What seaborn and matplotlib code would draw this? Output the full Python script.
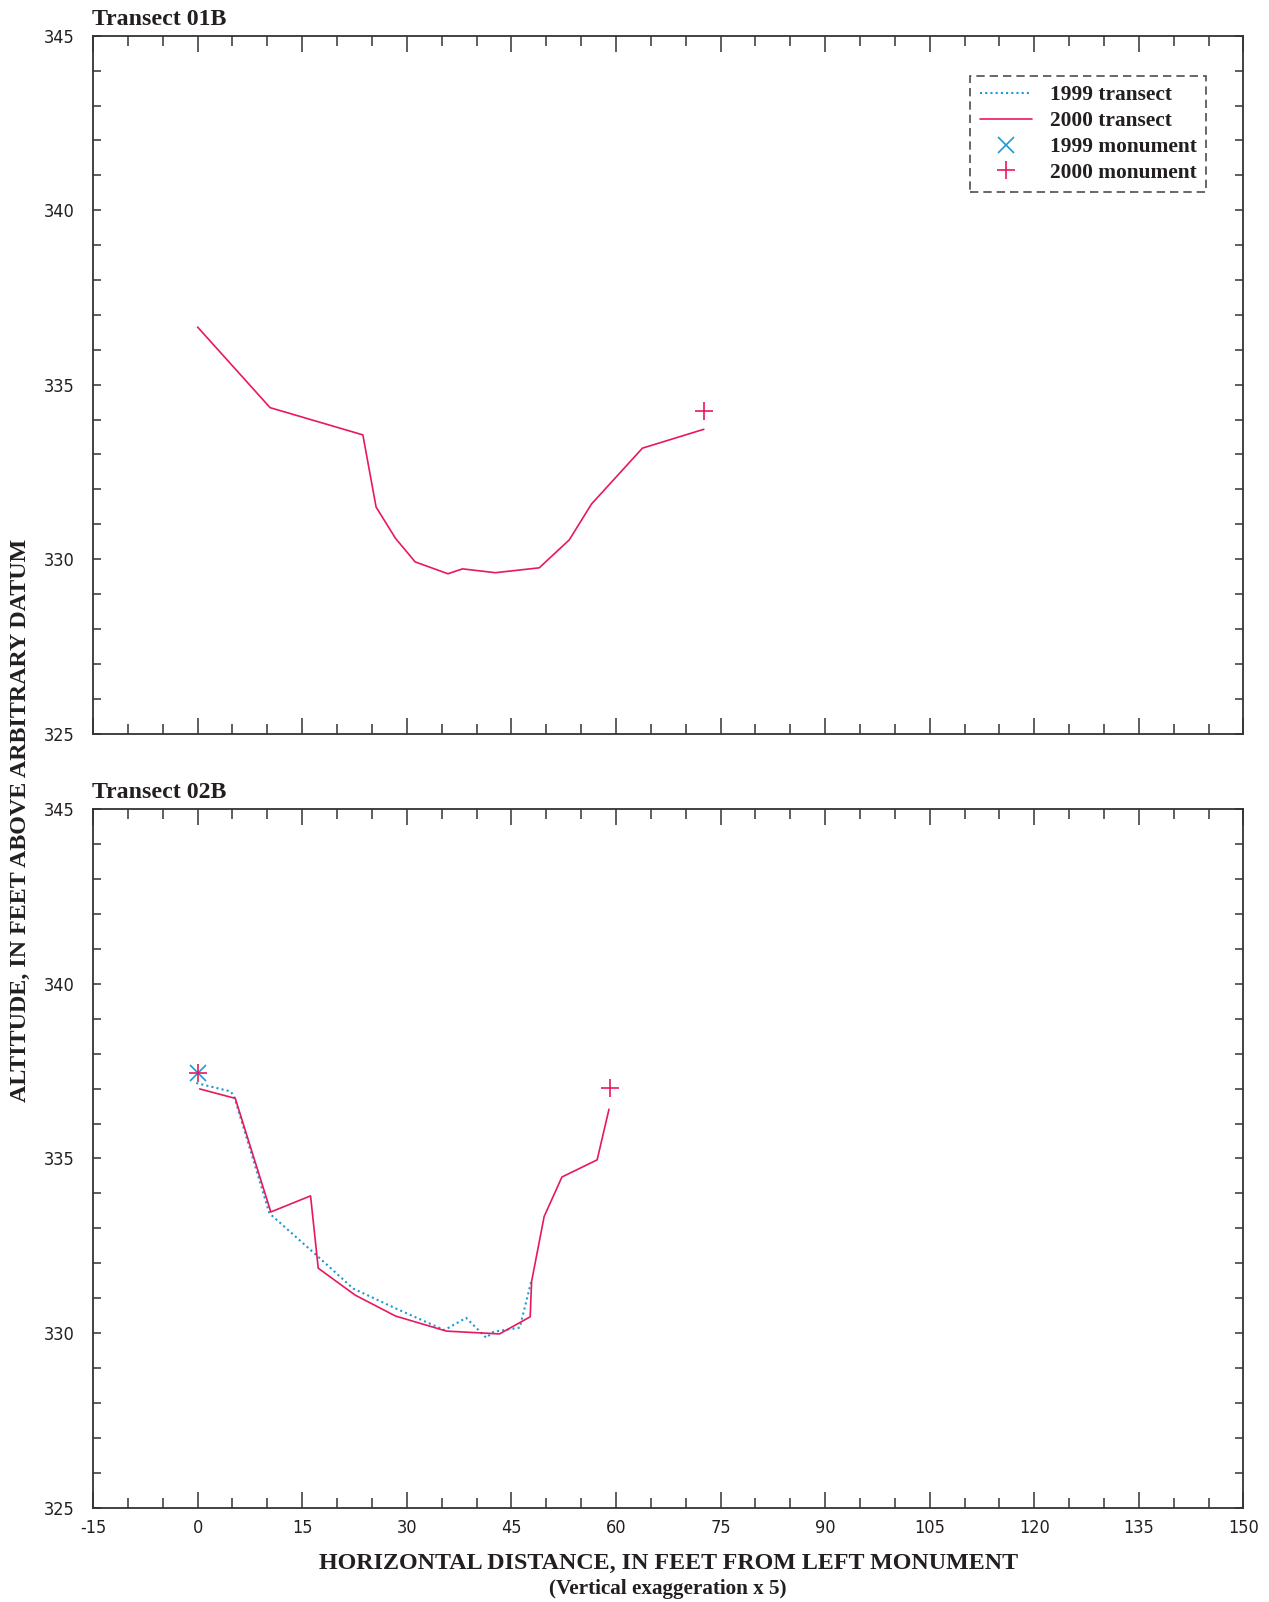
import numpy as np
import pandas as pd
import matplotlib
matplotlib.use("Agg")
import matplotlib.pyplot as plt
import seaborn as sns
from matplotlib.lines import Line2D
from matplotlib.ticker import MultipleLocator

# Transect 01B (2000 survey only)
t01_2000_x = [0.0, 10.4, 23.7, 25.6, 28.4, 31.2, 35.9, 38.0, 42.7, 49.0, 53.3, 56.5, 63.8, 72.6]
t01_2000_y = [336.65, 334.34, 333.56, 331.49, 330.59, 329.92, 329.58, 329.72, 329.61, 329.75,
              330.55, 331.58, 333.18, 333.72]
t01_mon2000 = (72.6, 334.25)

# Transect 02B
t02_1999_x = [-0.2, 4.7, 5.2, 10.3, 17.0, 22.3, 28.4, 35.4, 38.5, 41.4, 42.4, 46.2, 47.9]
t02_1999_y = [337.16, 336.92, 336.8, 333.43, 332.24, 331.28, 330.71, 330.09, 330.44, 329.87,
              330.04, 330.16, 331.52]
t02_2000_x = [0.3, 5.4, 10.5, 16.2, 17.3, 22.6, 28.4, 35.7, 43.3, 47.7, 47.9, 49.7, 52.25, 57.3, 59.0]
t02_2000_y = [336.99, 336.72, 333.47, 333.93, 331.86, 331.09, 330.49, 330.06, 329.98, 330.47,
              331.48, 333.34, 334.47, 334.96, 336.41]
t02_mon1999 = (0.0, 337.46)
t02_mon2000 = [(0.0, 337.46), (59.1, 337.03)]

x_ticks = list(range(-15, 151, 15))
y_ticks = [325, 330, 335, 340, 345]

RED = "#E8195B"
BLUE = "#1C9AD6"
INK = "#231F20"

sns.set_style("ticks")
plt.rcParams['font.family'] = ['Liberation Sans Narrow', 'DejaVu Sans']
plt.rcParams['font.stretch'] = 'condensed'
plt.rcParams['axes.unicode_minus'] = False
serif = ['Liberation Serif', 'DejaVu Serif']

fig = plt.figure(figsize=(12.69, 16.02), dpi=100)
ax1 = fig.add_axes([0.0733, 0.5421, 0.9066, 0.4356])
ax2 = fig.add_axes([0.0733, 0.0587, 0.9066, 0.4363])


def style_axis(ax, title, show_xlabels):
    ax.set_xlim(-15, 150)
    ax.set_ylim(325, 345)
    ax.set_xticks(x_ticks)
    ax.xaxis.set_minor_locator(MultipleLocator(5))
    ax.set_yticks(y_ticks)
    ax.yaxis.set_minor_locator(MultipleLocator(1))
    ax.tick_params(axis='x', which='major', direction='in', length=11.5, width=1.1,
                   top=True, bottom=True, color='#333333', labelsize=13, pad=8,
                   labelcolor=INK, labelbottom=show_xlabels)
    ax.tick_params(axis='x', which='minor', direction='in', length=7, width=1.1,
                   top=True, bottom=True, color='#333333')
    ax.tick_params(axis='y', which='both', direction='in', length=6, width=1.1,
                   left=True, right=True, color='#333333', labelsize=13, pad=13,
                   labelcolor=INK)
    for sp in ax.spines.values():
        sp.set_visible(True)
        sp.set_linewidth(1.3)
        sp.set_color('#333333')
    ax.set_xlabel('')
    ax.set_ylabel('')
    ax.text(-0.001, 1.008, title, transform=ax.transAxes, ha='left', va='bottom',
            family=serif, fontweight='bold', fontsize=17.2, color=INK)


# top panel
sns.lineplot(x=t01_2000_x, y=t01_2000_y, sort=False, estimator=None, ax=ax1,
             color=RED, lw=1.2)
ax1.plot([t01_mon2000[0]], [t01_mon2000[1]], marker='+', ms=13, mew=1.2, color=RED, ls='none')
style_axis(ax1, 'Transect 01B', False)

handles = [
    Line2D([], [], color=BLUE, lw=1.5, ls=(0, (1, 1.5))),
    Line2D([], [], color=RED, lw=1.2),
    Line2D([], [], color=BLUE, marker='x', ms=11, mew=1.2, ls='none'),
    Line2D([], [], color=RED, marker='+', ms=13, mew=1.2, ls='none'),
]
labels = ['1999 transect', '2000 transect', '1999 monument', '2000 monument']
leg = ax1.legend(handles, labels, loc='upper right', bbox_to_anchor=(0.9675, 0.9425),
                 prop={'family': serif, 'weight': 'bold', 'size': 15.4},
                 frameon=True, fancybox=False, handlelength=2.45, handletextpad=0.8,
                 labelspacing=0.27, borderpad=0.45, borderaxespad=0)
leg.get_frame().set_edgecolor(INK)
leg.get_frame().set_linestyle((0, (5, 3)))
leg.get_frame().set_linewidth(1.2)
for t in leg.get_texts():
    t.set_color(INK)

# bottom panel
sns.lineplot(x=t02_1999_x, y=t02_1999_y, sort=False, estimator=None, ax=ax2,
             color=BLUE, lw=1.5, linestyle=(0, (1, 1.5)))
sns.lineplot(x=t02_2000_x, y=t02_2000_y, sort=False, estimator=None, ax=ax2,
             color=RED, lw=1.2)
ax2.plot([t02_mon1999[0]], [t02_mon1999[1]], marker='x', ms=11, mew=1.2, color=BLUE, ls='none')
mx, my = zip(*t02_mon2000)
ax2.plot(mx, my, marker='+', ms=13, mew=1.2, color=RED, ls='none')
style_axis(ax2, 'Transect 02B', True)

fig.text(0.5265, 0.0243, 'HORIZONTAL DISTANCE, IN FEET FROM LEFT MONUMENT', ha='center',
         va='center', family=serif, fontweight='bold', fontsize=17.3, color=INK)
fig.text(0.5265, 0.0083, '(Vertical exaggeration x 5)', ha='center', va='center',
         family=serif, fontweight='bold', fontsize=15.2, color=INK)
fig.text(0.0158, 0.488, 'ALTITUDE, IN FEET ABOVE ARBITRARY DATUM', ha='center', va='center',
         rotation=90, family=serif, fontweight='bold', fontsize=17.3, color=INK)

fig.savefig('out.png', dpi=100, facecolor='white')
